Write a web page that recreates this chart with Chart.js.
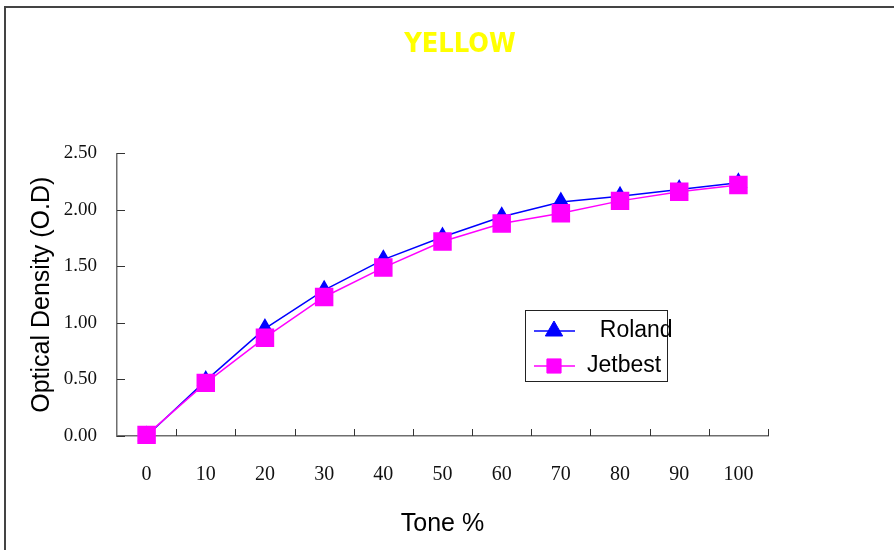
<!DOCTYPE html>
<html>
<head>
<meta charset="utf-8">
<title>YELLOW</title>
<script src="https://cdn.jsdelivr.net/npm/chart.js@4.4.1/dist/chart.umd.min.js"></script>
<style>
  html, body { margin: 0; padding: 0; background: #fff; overflow: hidden; }
  #wrap { position: relative; width: 894px; height: 550px; }
  #frame {
    position: absolute; left: 4px; top: 6px; width: 1000px; height: 1000px;
    border-left: 2px solid #444; border-top: 2px solid #444; pointer-events: none;
  }
</style>
</head>
<body>
<div id="wrap">
  <canvas id="odChart" width="894" height="550"></canvas>
  <div id="frame"></div>
</div>
<script>
// Data
const tones = ['0', '10', '20', '30', '40', '50', '60', '70', '80', '90', '100'];
const roland = [0.00, 0.49, 0.95, 1.29, 1.56, 1.76, 1.94, 2.07, 2.12, 2.18, 2.24];
const jetbest = [0.01, 0.47, 0.87, 1.23, 1.49, 1.72, 1.88, 1.97, 2.08, 2.16, 2.22];
const seriesNames = ['  Roland', 'Jetbest'];
const yTicks = [0, 0.5, 1, 1.5, 2, 2.5];

const sans = "'Liberation Sans', Arial, sans-serif";
const serif = "'Liberation Serif', 'Times New Roman', serif";

// Short tick marks pointing into the plot area
const innerTicks = {
  id: 'innerTicks',
  beforeDatasetsDraw(chart) {
    const { ctx, scales: { x, y } } = chart;
    ctx.save();
    ctx.strokeStyle = '#333';
    ctx.lineWidth = 1;
    ctx.beginPath();
    y.ticks.forEach(t => {
      const py = Math.round(y.getPixelForValue(t.value)) + 0.5;
      ctx.moveTo(y.right, py);
      ctx.lineTo(y.right + 8, py);
    });
    const n = x.ticks.length;
    for (let i = 1; i <= n; i++) {
      const px = Math.round(x.left + i * x.width / n) + 0.5;
      ctx.moveTo(px, x.top);
      ctx.lineTo(px, x.top - 7);
    }
    ctx.stroke();
    ctx.restore();
  }
};

// Boxed legend sitting inside the plot
const boxLegend = {
  id: 'boxLegend',
  afterDatasetsDraw(chart) {
    const ctx = chart.ctx;
    ctx.save();
    ctx.strokeStyle = '#222';
    ctx.lineWidth = 1;
    ctx.strokeRect(525.5, 310.5, 142, 71);
    const rows = [331, 366];
    chart.data.datasets.forEach((ds, i) => {
      const yy = rows[i];
      ctx.strokeStyle = ds.borderColor;
      ctx.lineWidth = 1.5;
      ctx.beginPath();
      ctx.moveTo(534, yy);
      ctx.lineTo(575, yy);
      ctx.stroke();
      ctx.fillStyle = ds.pointBackgroundColor;
      ctx.lineWidth = 1;
      Chart.helpers.drawPoint(ctx, { pointStyle: ds.pointStyle, radius: 10, borderWidth: 1, rotation: 0 }, 554, yy);
      ctx.fillStyle = '#000';
      ctx.font = '23px ' + sans;
      ctx.textAlign = 'left';
      ctx.textBaseline = 'middle';
      ctx.fillText(ds.label, 587, yy);
    });
    ctx.restore();
  }
};

new Chart(document.getElementById('odChart'), {
  type: 'line',
  data: {
    labels: tones,
    datasets: [
      {
        label: seriesNames[0],
        data: roland,
        borderColor: '#0000ff',
        backgroundColor: '#0000ff',
        pointBackgroundColor: '#0000ff',
        pointBorderColor: '#0000ff',
        pointStyle: 'triangle',
        pointRadius: 9,
        borderWidth: 1.5,
        tension: 0,
        clip: false,
        order: 1
      },
      {
        label: seriesNames[1],
        data: jetbest,
        borderColor: '#ff00ff',
        backgroundColor: '#ff00ff',
        pointBackgroundColor: '#ff00ff',
        pointBorderColor: '#ff00ff',
        pointStyle: 'rect',
        pointRadius: 12,
        borderWidth: 1.5,
        tension: 0,
        clip: false,
        order: 0
      }
    ]
  },
  options: {
    responsive: false,
    animation: false,
    events: [],
    layout: { padding: { left: 26, right: 0, top: 0, bottom: 0 } },
    plugins: {
      legend: { display: false },
      tooltip: { enabled: false },
      title: {
        display: true,
        text: 'YELLOW',
        color: '#ffff00',
        font: { family: "'DejaVu Sans Condensed', 'Liberation Sans', sans-serif", size: 27, weight: 'bold' },
        padding: { top: 29, bottom: 92 }
      }
    },
    scales: {
      x: {
        offset: true,
        grid: { display: false },
        border: { color: '#6e6e6e', width: 1.5 },
        ticks: { color: '#111', padding: 19, font: { family: serif, size: 20 } },
        title: {
          display: true, text: 'Tone %', color: '#000',
          font: { family: sans, size: 25 }, padding: { top: 0, bottom: 11 }
        },
        afterFit(s) { s.height = 114; }
      },
      y: {
        min: yTicks[0],
        max: yTicks[yTicks.length - 1],
        afterBuildTicks(s) { s.ticks = yTicks.map(v => ({ value: v })); },
        grid: { display: false },
        border: { color: '#6e6e6e', width: 1.5 },
        ticks: {
          color: '#111', padding: 12, font: { family: serif, size: 19 },
          callback: v => Number(v).toFixed(2)
        },
        title: {
          display: true, text: 'Optical Density (O.D)', color: '#000',
          font: { family: sans, size: 25 }, padding: { top: 1, bottom: 0 }
        },
        afterFit(s) { s.width = 91; }
      },
      y2: {
        position: 'right',
        grid: { display: false },
        border: { display: false },
        ticks: { display: false },
        afterFit(s) { s.width = 126; }
      }
    }
  },
  plugins: [innerTicks, boxLegend]
});
</script>
</body>
</html>
